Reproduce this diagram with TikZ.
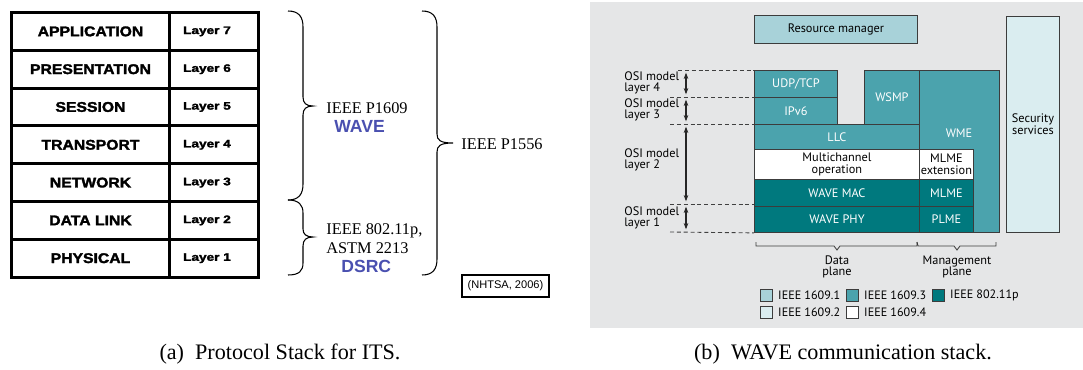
\documentclass[tikz,border=0pt]{standalone}
\usepackage{graphicx}
\usepackage{fontspec}
\setmainfont{Liberation Serif}
\newfontfamily\tabfont{Liberation Sans}
\newfontfamily\tabblack[FakeBold=2]{Liberation Sans Bold}
\newfontfamily\wfont{PT Sans}
\usetikzlibrary{arrows.meta}
\definecolor{cA}{HTML}{A8D2D9}
\definecolor{cB}{HTML}{DAEDF0}
\definecolor{cC}{HTML}{4BA3AD}
\definecolor{cD}{HTML}{00797E}
\definecolor{panelbg}{HTML}{E5E6E7}
\definecolor{edge}{HTML}{3C3C3C}
\definecolor{wblue}{HTML}{4A50B0}
\newcommand\osiname[1]{\scalebox{1.12}[1]{#1}}
\newcommand\layname[1]{\scalebox{1.25}[1]{#1}\hspace*{0.28cm}}
\begin{document}
\begin{tikzpicture}[x=0.02cm,y=-0.02cm,
  wh/.style 2 args={minimum width=#1*0.02cm, minimum height=#2*0.02cm},
  cell/.style={draw, line width=1.7pt, inner sep=0pt, anchor=north west},
  osi/.style={font=\tabblack\fontsize{8}{9}\selectfont},
  lay/.style={font=\tabblack\fontsize{6.2}{7}\selectfont},
  serifl/.style={font=\fontsize{9.3}{10.5}\selectfont, inner sep=0pt, align=left},
  bluel/.style={font=\tabfont\bfseries\fontsize{10}{11}\selectfont, text=wblue, inner sep=0pt},
  bracepath/.style={draw, line width=0.6pt},
  box/.style={draw=edge, line width=0.5pt, inner sep=0pt, anchor=north west, align=center,
    font=\wfont\fontsize{7}{6.6}\selectfont},
  wtxt/.style={text=white},
  wlabel/.style={font=\wfont\fontsize{7}{6.6}\selectfont, inner sep=0pt, align=left, anchor=west},
  dashline/.style={draw=black!75, line width=0.5pt, dash pattern=on 2.3pt off 1.6pt},
  osiarrow/.style={draw=black!85, line width=0.6pt, {Stealth[length=3.6pt,width=2.6pt]}-{Stealth[length=3.6pt,width=2.6pt]}, shorten <=1.5pt, shorten >=1.5pt},
  legsq/.style={draw=edge, line width=0.5pt, inner sep=0pt, minimum size=12*0.02cm, anchor=north west},
  legtxt/.style={font=\wfont\fontsize{6.9}{8}\selectfont, inner sep=0pt, anchor=west},
  captxt/.style={font=\fontsize{12.6}{14}\selectfont, inner sep=0pt}
]
\useasboundingbox (0,0) rectangle (1083,369);

% ---------------- (a) table ----------------
\node[cell, wh={158}{37.8}, osi] (app)  at (10,11)    {\osiname{APPLICATION}};
\node[cell, wh={158}{37.8}, osi] (pres) at (10,48.8)  {\osiname{PRESENTATION}};
\node[cell, wh={158}{37.8}, osi] (sess) at (10,86.6)  {\osiname{SESSION}};
\node[cell, wh={158}{37.8}, osi] (tran) at (10,124.4) {\osiname{TRANSPORT}};
\node[cell, wh={158}{37.8}, osi] (net)  at (10,162.2) {\osiname{NETWORK}};
\node[cell, wh={158}{37.8}, osi] (dl)   at (10,200)   {\osiname{DATA LINK}};
\node[cell, wh={158}{37.8}, osi] (phys) at (10,237.8) {\osiname{PHYSICAL}};
\node[cell, wh={89}{37.8}, lay] (l7) at (168,11)    {\layname{Layer 7}};
\node[cell, wh={89}{37.8}, lay] (l6) at (168,48.8)  {\layname{Layer 6}};
\node[cell, wh={89}{37.8}, lay] (l5) at (168,86.6)  {\layname{Layer 5}};
\node[cell, wh={89}{37.8}, lay] (l4) at (168,124.4) {\layname{Layer 4}};
\node[cell, wh={89}{37.8}, lay] (l3) at (168,162.2) {\layname{Layer 3}};
\node[cell, wh={89}{37.8}, lay] (l2) at (168,200)   {\layname{Layer 2}};
\node[cell, wh={89}{37.8}, lay] (l1) at (168,237.8) {\layname{Layer 1}};

% braces
\path[bracepath] (288,11) .. controls (299,11) and (303,17) .. (303,27) -- (303,97)
  .. controls (303,103) and (306,106) .. (313,106)
  .. controls (306,106) and (303,109) .. (303,115) -- (303,184)
  .. controls (303,194) and (299,200) .. (288,200);
\path[bracepath] (288,200) .. controls (299,200) and (303,205) .. (303,213) -- (303,229)
  .. controls (303,234) and (306,237) .. (313,237)
  .. controls (306,237) and (303,240) .. (303,246) -- (303,263)
  .. controls (303,271) and (299,275) .. (288,275);
\path[bracepath] (422,11) .. controls (433,11) and (437,17) .. (437,27) -- (437,134)
  .. controls (437,140) and (440,143) .. (453,143)
  .. controls (440,143) and (437,146) .. (437,152) -- (437,259)
  .. controls (437,269) and (433,275) .. (422,275);

\node[serifl, anchor=base west] (p1609) at (326,113) {IEEE P1609};
\node[bluel, anchor=base west] (wave) at (334,132) {WAVE};
\node[serifl, anchor=base west] (p80211) at (326,234) {IEEE 802.11p,};
\node[serifl, anchor=base west] (astm) at (326,253) {ASTM 2213};
\node[bluel, anchor=base west] (dsrc) at (341,272.5) {DSRC};
\node[serifl, anchor=base west] (p1556) at (461,149) {IEEE P1556};
\node[draw, line width=1.1pt, inner sep=0pt, wh={87}{22}, font=\tabfont\fontsize{6.3}{7}\selectfont, anchor=north west] (nhtsa) at (461,274) {(NHTSA, 2006)};

% ---------------- (b) WAVE stack ----------------
\fill[panelbg] (590,2) rectangle (1083,328);

\node[box, wh={163}{28}, fill=cA] (rm) at (754,15) {Resource manager};
\node[box, wh={53}{216}, fill=cB] (sec) at (1006,16) {Security\\services};
\node[box, wh={80}{162}, fill=cC] (wme) at (919,70) {};
\node[wtxt, font=\wfont\fontsize{7}{8}\selectfont, inner sep=0pt] (wmet) at (959,133) {WME};
\node[box, wh={83}{27}, fill=cC, wtxt] (udp) at (754,70) {UDP/TCP};
\node[box, wh={83}{27}, fill=cC, wtxt] (ipv6) at (754,97) {IPv6};
\node[box, wh={55}{54}, fill=cC, wtxt] (wsmp) at (864,70) {WSMP};
\node[box, wh={165}{25}, fill=cC, wtxt] (llc) at (754,124) {LLC};
\node[box, wh={165}{30}, fill=white] (mco) at (754,149) {Multichannel\\operation};
\node[box, wh={165}{27}, fill=cD, wtxt] (mac) at (754,179) {WAVE MAC};
\node[box, wh={165}{26}, fill=cD, wtxt] (phy) at (754,206) {WAVE PHY};
\node[box, wh={54}{30}, fill=white] (mlmex) at (919,149) {MLME\\extension};
\node[box, wh={54}{27}, fill=cD, wtxt] (mlme) at (919,179) {MLME};
\node[box, wh={54}{26}, fill=cD, wtxt] (plme) at (919,206) {PLME};

% OSI levels
\coordinate (d4s) at (678,70);
\coordinate (d3s) at (670,97);
\coordinate (d2s) at (670,124);
\coordinate (d1s) at (670,204);
\coordinate (d0s) at (670,232);
\path[dashline] (d4s) -- (udp.north west);
\path[dashline] (d3s) -- (ipv6.north west);
\path[dashline] (d2s) -- (llc.north west);
\path[dashline] (d1s) -- (754,204);
\path[dashline] (d0s) -- (phy.south west);
\coordinate (a4) at (686,70);
\coordinate (a3) at (686,97);
\coordinate (a2) at (686,124);
\coordinate (a1) at (686,204);
\coordinate (a0) at (686,232);
\path[osiarrow] (a4) -- (a3);
\path[osiarrow] (a3) -- (a2);
\path[osiarrow] (a2) -- (a1);
\path[osiarrow] (a1) -- (a0);
\node[wlabel] (o4) at (624,83) {OSI model\\layer 4};
\node[wlabel] (o3) at (624,110) {OSI model\\layer 3};
\node[wlabel] (o2) at (624,160) {OSI model\\layer 2};
\node[wlabel] (o1) at (624,218) {OSI model\\layer 1};

% plane braces
\draw[edge, line width=0.5pt] (756,242) -- (756,246) -- (834,246) -- (837,250) -- (840,246) -- (917,246) -- (917,242);
\draw[edge, line width=0.5pt] (917,242) -- (918,246) -- (954,246) -- (957,250) -- (960,246) -- (996,246) -- (996,242);
\node[font=\wfont\fontsize{7}{6.6}\selectfont, align=center, inner sep=0pt] (dp) at (837,267) {Data\\plane};
\node[font=\wfont\fontsize{7}{6.6}\selectfont, align=center, inner sep=0pt] (mp) at (957,267) {Management\\plane};

% legend
\node[legsq, fill=cA] (lg1) at (760,289) {};
\node[legtxt] at ([xshift=5*0.02cm]lg1.east) {IEEE 1609.1};
\node[legsq, fill=cC] (lg3) at (846,289) {};
\node[legtxt] at ([xshift=5*0.02cm]lg3.east) {IEEE 1609.3};
\node[legsq, fill=cD] (lg5) at (932,289) {};
\node[legtxt] at ([xshift=5*0.02cm]lg5.east) {IEEE 802.11p};
\node[legsq, fill=cB] (lg2) at (760,306) {};
\node[legtxt] at ([xshift=5*0.02cm]lg2.east) {IEEE 1609.2};
\node[legsq, fill=white] (lg4) at (846,306) {};
\node[legtxt] at ([xshift=5*0.02cm]lg4.east) {IEEE 1609.4};

% captions
\node[captxt] (capa) at (280,354) {(a)\ \ Protocol Stack for ITS.};
\node[captxt] (capb) at (843,354) {(b)\ \ WAVE communication stack.};
\end{tikzpicture}
\end{document}
